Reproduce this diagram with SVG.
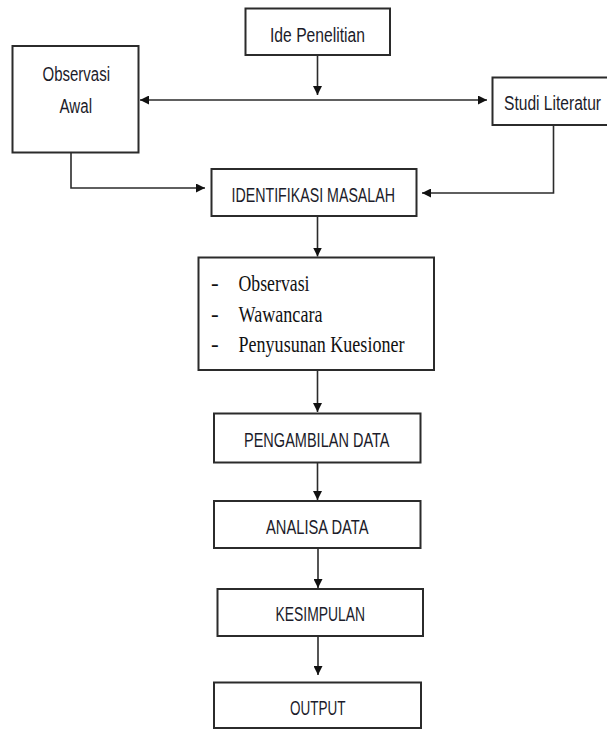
<svg xmlns="http://www.w3.org/2000/svg" width="607" height="729" viewBox="0 0 607 729">
<defs>
<style>
.box{fill:#fff;stroke:#2b2b2b;stroke-width:2}
.ln{fill:none;stroke:#2b2b2b;stroke-width:1.6}
.t{font-family:"Liberation Sans",Arial,sans-serif;font-size:20px;fill:#1c1c2a}
.s{font-family:"Liberation Serif","Times New Roman",serif;font-size:23px;fill:#111}
</style>
<marker id="ah" viewBox="0 0 10 10" refX="10" refY="5" markerWidth="9" markerHeight="9" markerUnits="userSpaceOnUse" orient="auto-start-reverse">
<path d="M0,0 L10,5 L0,10 z" fill="#111"/>
</marker>
</defs>
<rect width="607" height="729" fill="#fff"/>
<g id="connectors">
<line class="ln" x1="317.5" y1="55" x2="317.5" y2="95" marker-end="url(#ah)"/>
<line class="ln" x1="140" y1="100" x2="487" y2="100" marker-start="url(#ah)" marker-end="url(#ah)"/>
<polyline class="ln" points="71,153 71,188 205,188" marker-end="url(#ah)"/>
<polyline class="ln" points="553.5,125 553.5,193 422,193" marker-end="url(#ah)"/>
<line class="ln" x1="317.5" y1="216" x2="317.5" y2="256.5" marker-end="url(#ah)"/>
<line class="ln" x1="317.5" y1="370" x2="317.5" y2="412" marker-end="url(#ah)"/>
<line class="ln" x1="317.5" y1="462" x2="317.5" y2="500" marker-end="url(#ah)"/>
<line class="ln" x1="318" y1="548" x2="318" y2="588" marker-end="url(#ah)"/>
<line class="ln" x1="318" y1="636" x2="318" y2="675" marker-end="url(#ah)"/>
</g>
<g id="ide">
<rect class="box" x="245.5" y="8.5" width="144.5" height="46.5"/>
<text class="t" x="270" y="42" textLength="95" lengthAdjust="spacingAndGlyphs">Ide Penelitian</text>
</g>
<g id="observasi-awal">
<rect class="box" x="12.5" y="46" width="126" height="106.5"/>
<text class="t" x="42.5" y="80.5" textLength="67.5" lengthAdjust="spacingAndGlyphs">Observasi</text>
<text class="t" x="59.5" y="113" textLength="32.5" lengthAdjust="spacingAndGlyphs">Awal</text>
</g>
<g id="studi">
<rect class="box" x="492.5" y="77.5" width="120" height="47.5"/>
<text class="t" x="504" y="110" textLength="97" lengthAdjust="spacingAndGlyphs">Studi Literatur</text>
</g>
<g id="identifikasi">
<rect class="box" x="211.5" y="169" width="205" height="47"/>
<text class="t" x="231.5" y="202" textLength="163.5" lengthAdjust="spacingAndGlyphs">IDENTIFIKASI MASALAH</text>
</g>
<g id="metode">
<rect class="box" x="198.5" y="257.5" width="235.5" height="112.5"/>
<text class="s" x="211" y="291">-</text>
<text class="s" x="211" y="322">-</text>
<text class="s" x="211" y="352">-</text>
<text class="s" x="238.5" y="291" textLength="71" lengthAdjust="spacingAndGlyphs">Observasi</text>
<text class="s" x="238.5" y="322" textLength="84" lengthAdjust="spacingAndGlyphs">Wawancara</text>
<text class="s" x="238.5" y="352" textLength="166" lengthAdjust="spacingAndGlyphs">Penyusunan Kuesioner</text>
</g>
<g id="pengambilan">
<rect class="box" x="214" y="413.5" width="206.5" height="49"/>
<text class="t" x="244" y="446.5" textLength="145.5" lengthAdjust="spacingAndGlyphs">PENGAMBILAN DATA</text>
</g>
<g id="analisa">
<rect class="box" x="214" y="501" width="206.5" height="47"/>
<text class="t" x="266" y="534" textLength="102.5" lengthAdjust="spacingAndGlyphs">ANALISA DATA</text>
</g>
<g id="kesimpulan">
<rect class="box" x="217.5" y="589" width="205.5" height="47"/>
<text class="t" x="275.5" y="621" textLength="89.5" lengthAdjust="spacingAndGlyphs">KESIMPULAN</text>
</g>
<g id="output">
<rect class="box" x="214" y="682.5" width="207" height="45.5"/>
<text class="t" x="290" y="714.5" textLength="55.5" lengthAdjust="spacingAndGlyphs">OUTPUT</text>
</g>
</svg>
